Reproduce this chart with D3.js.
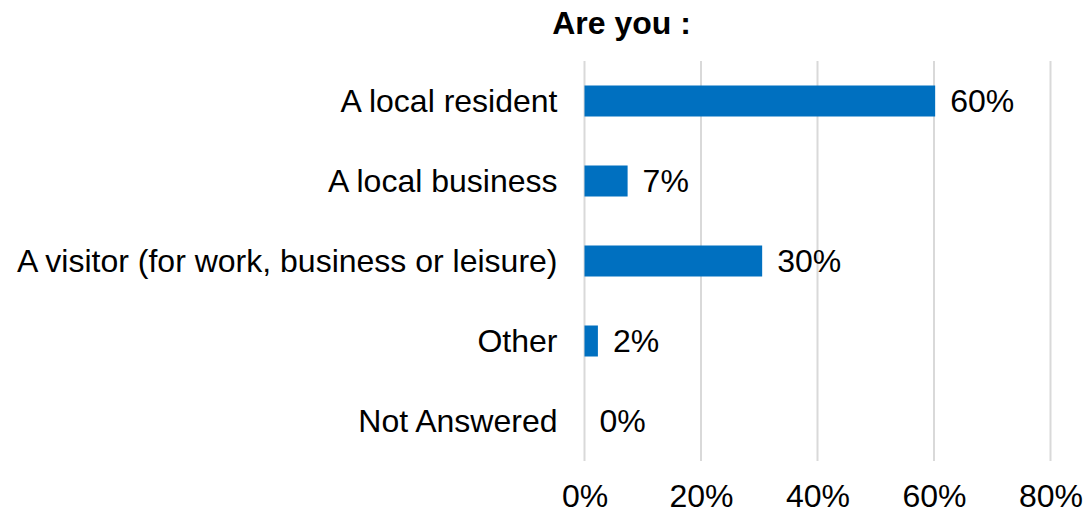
<!DOCTYPE html>
<html>
<head>
<meta charset="utf-8">
<script src="https://cdn.jsdelivr.net/npm/d3@7"></script>
<style>
  html, body { margin: 0; padding: 0; background: #ffffff; }
  svg { display: block; }
  text { font-family: "Liberation Sans", Arial, sans-serif; fill: #000000; }
</style>
</head>
<body>
<svg id="chart" width="1084" height="514"></svg>
<script>
const title = "Are you :";
const categories = [
  "A local resident",
  "A local business",
  "A visitor (for work, business or leisure)",
  "Other",
  "Not Answered"
];
const values = [60.2, 7.4, 30.5, 2.3, 0];
const valueLabels = ["60%", "7%", "30%", "2%", "0%"];
const tickValues = [0, 20, 40, 60, 80];
const tickLabels = ["0%", "20%", "40%", "60%", "80%"];

(function () {
const svg = d3.select("#chart");
const plotLeft = 584.5, plotRight = 1050.5, plotTop = 61, plotBottom = 461;
const fontSize = 32;

const x = d3.scaleLinear().domain([0, 80]).range([plotLeft, plotRight]);
const y = d3.scaleBand().domain(categories).range([plotTop, plotBottom])
  .paddingInner(0.6125).paddingOuter(0.30625);

// gridlines
svg.append("g").selectAll("line").data(tickValues).join("line")
  .attr("x1", d => x(d)).attr("x2", d => x(d))
  .attr("y1", plotTop).attr("y2", plotBottom)
  .attr("stroke", "#d9d9d9").attr("stroke-width", 2);

// x axis tick labels
const xAxis = d3.axisBottom(x).tickValues(tickValues)
  .tickFormat((d, i) => tickLabels[i]).tickSize(0).tickPadding(0);
const gx = svg.append("g").attr("transform", `translate(0,${plotBottom})`).call(xAxis);
gx.select(".domain").remove();
gx.selectAll("text")
  .attr("y", 46).attr("dy", null)
  .style("font-size", fontSize + "px")
  .style("font-family", '"Liberation Sans", Arial, sans-serif')
  .attr("fill", "#000");

// y axis category labels
const yAxis = d3.axisLeft(y).tickSize(0).tickPadding(27);
const gy = svg.append("g").attr("transform", `translate(${plotLeft},0)`).call(yAxis);
gy.select(".domain").remove();
gy.selectAll("text")
  .attr("dy", "0.35em")
  .style("font-size", fontSize + "px")
  .style("font-family", '"Liberation Sans", Arial, sans-serif')
  .attr("fill", "#000");

// bars
svg.append("g").selectAll("rect").data(categories).join("rect")
  .attr("x", x(0))
  .attr("y", d => y(d))
  .attr("width", (d, i) => x(values[i]) - x(0))
  .attr("height", y.bandwidth())
  .attr("fill", "#0070c0");

// value labels
svg.append("g").selectAll("text").data(categories).join("text")
  .attr("x", (d, i) => x(values[i]) + 15)
  .attr("y", d => y(d) + y.bandwidth() / 2)
  .attr("dy", "0.35em")
  .style("font-size", fontSize + "px")
  .text((d, i) => valueLabels[i]);

// title
svg.append("text")
  .attr("x", 621.5).attr("y", 34)
  .attr("text-anchor", "middle")
  .style("font-size", fontSize + "px")
  .style("font-weight", "bold")
  .text(title);
})();
</script>
</body>
</html>
